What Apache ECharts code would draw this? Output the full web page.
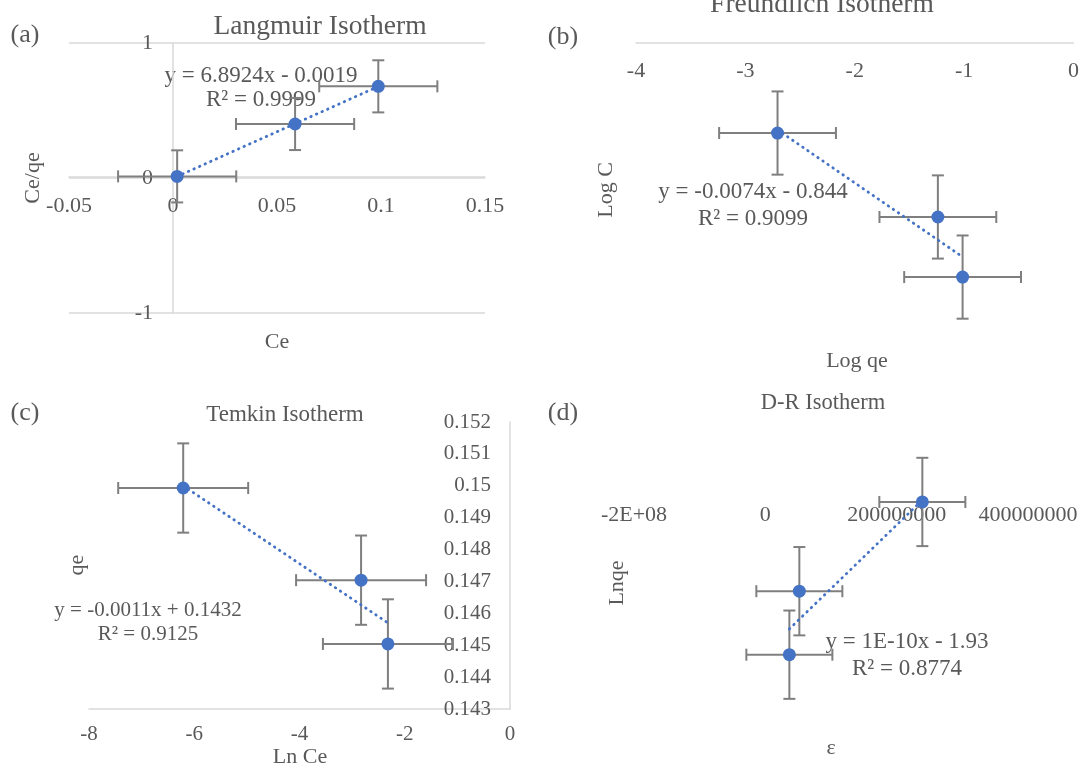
<!DOCTYPE html>
<html><head><meta charset="utf-8">
<script src="https://cdn.jsdelivr.net/npm/echarts@6/dist/echarts.min.js"></script>
<style>html,body{margin:0;padding:0;background:#fff}#c{width:1082px;height:767px}</style>
</head><body><div id="c"></div>
<script>
// ---- (a) Langmuir ----
const langX = [0.002, 0.0587, 0.0987];
const langY = [0.012, 0.40, 0.679];
const langXErr = [0.0284, 0.0284, 0.0284];
const langYErr = [0.193, 0.193, 0.193];
const langTrendX = [0.002, 0.0987];
const langTrendY = [0.0119, 0.678];
// ---- (b) Freundlich ----
const freX = [-2.706, -1.24, -1.014];
const freY = [-0.37, -0.715, -0.962];
const freXErr = [0.534, 0.534, 0.534];
const freYErr = [0.171, 0.171, 0.171];
const freTrendX = [-2.706, -1.014];
const freTrendY = [-0.357, -0.879];
// ---- (c) Temkin ----
const temX = [-6.21, -2.83, -2.32];
const temY = [0.14993, 0.14704, 0.14504];
const temXErr = [1.235, 1.235, 1.235];
const temYErr = [0.0014, 0.0014, 0.0014];
const temTrendX = [-6.21, -2.32];
const temTrendY = [0.1500, 0.1457];
// ---- (d) D-R ----
const drX = [5.18e7, 3.66e7, 2.391e8];
const drY = [-1.917, -1.9308, -1.8976];
const drXErr = [6.55e7, 6.55e7, 6.55e7];
const drYErr = [0.0096, 0.0096, 0.0096];
const drTrendX = [3.66e7, 2.391e8];
const drTrendY = [-1.9252, -1.8972];
const drTickValues = [-2e8, 0, 2e8, 4e8];
const drTickLabels = ['-2E+08', '0', '200000000', '400000000'];

const FONT = '"Liberation Serif","Times New Roman",serif';
const TXT = '#595959';
const AXC = '#d9d9d9';
const BLUE = '#4472C4';

function errRender(params, api) {
  const x = api.value(0), y = api.value(1), ex = api.value(2), ey = api.value(3);
  const l = api.coord([x - ex, y]), r = api.coord([x + ex, y]);
  const t = api.coord([x, y + ey]), b = api.coord([x, y - ey]);
  const cap = 6;
  const st = {stroke: '#7f7f7f', lineWidth: 2, fill: null};
  const ln = (x1, y1, x2, y2) => ({type: 'line', shape: {x1, y1, x2, y2}, style: st});
  return {type: 'group', children: [
    ln(l[0], l[1], r[0], r[1]),
    ln(l[0], l[1] - cap, l[0], l[1] + cap),
    ln(r[0], r[1] - cap, r[0], r[1] + cap),
    ln(t[0], t[1], b[0], b[1]),
    ln(t[0] - cap, t[1], t[0] + cap, t[1]),
    ln(b[0] - cap, b[1], b[0] + cap, b[1])
  ]};
}
function zip(a, b) { return a.map((v, i) => [v, b[i]]); }
function zip4(a, b, c, d) { return a.map((v, i) => [v, b[i], c[i], d[i]]); }
function panelSeries(idx, xs, ys, xe, ye, tx, ty) {
  return [
    {type: 'custom', xAxisIndex: idx, yAxisIndex: idx, renderItem: errRender, clip: false,
     encode: {x: 0, y: 1}, data: zip4(xs, ys, xe, ye), z: 2},
    {type: 'line', xAxisIndex: idx, yAxisIndex: idx, data: zip(tx, ty), symbol: 'none', z: 3,
     lineStyle: {color: BLUE, width: 2.8, type: [0.5, 5.6], cap: 'round'}},
    {type: 'scatter', xAxisIndex: idx, yAxisIndex: idx, data: zip(xs, ys), symbolSize: 13,
     itemStyle: {color: BLUE, opacity: 1}, z: 4, clip: false}
  ];
}
const lab = (size) => ({color: TXT, fontFamily: FONT, fontSize: size});
function txt(text, x, y, size, rot) {
  return {type: 'text', x: x, y: y, rotation: rot ? Math.PI / 2 : 0,
    style: {text: text, fill: TXT, fontFamily: FONT, fontSize: size, align: 'center', verticalAlign: 'middle'}};
}

const option = {
  animation: false,
  backgroundColor: '#fff',
  grid: [
    {left: 69, top: 43, width: 416, height: 270},
    {left: 636, top: 43, width: 442, height: 292},
    {left: 89, top: 422, width: 421, height: 287},
    {left: 634, top: 421, width: 394, height: 322}
  ],
  xAxis: [
    // axis line sits on y = 0 (pixel 177): offset from grid bottom (313)
    {gridIndex: 0, type: 'value', min: -0.05, max: 0.15, interval: 0.05, position: 'bottom', offset: -136,
     axisLine: {onZero: false, lineStyle: {color: AXC, width: 1.5}}, axisTick: {show: false}, splitLine: {show: false},
     axisLabel: Object.assign(lab(22), {margin: 18})},
    // axis line sits on y = 0 (top of grid)
    {gridIndex: 1, type: 'value', min: -4, max: 0, interval: 1, position: 'bottom', offset: -292,
     axisLine: {onZero: false, lineStyle: {color: AXC, width: 1.5}}, axisTick: {show: false}, splitLine: {show: false},
     axisLabel: Object.assign(lab(22), {margin: 17})},
    {gridIndex: 2, type: 'value', min: -8, max: 0, interval: 2,
     axisLine: {onZero: false, lineStyle: {color: AXC, width: 1.5}}, axisTick: {show: false}, splitLine: {show: false},
     axisLabel: Object.assign(lab(21), {margin: 15})},
    {gridIndex: 3, type: 'value', min: -2e8, max: 4e8, interval: 2e8, position: 'bottom', offset: -253,
     axisLine: {show: false, onZero: false}, axisTick: {show: false}, splitLine: {show: false},
     axisLabel: Object.assign(lab(22), {margin: 14,
       formatter: v => { const i = drTickValues.indexOf(v); return i >= 0 ? drTickLabels[i] : ''; }})}
  ],
  yAxis: [
    // axis line sits on x = 0 (pixel 173): offset from grid left (69)
    {gridIndex: 0, type: 'value', min: -1, max: 1, interval: 1, position: 'left', offset: -104,
     axisLine: {show: true, onZero: false, lineStyle: {color: AXC, width: 1.5}}, axisTick: {show: false},
     splitLine: {show: true, lineStyle: {color: AXC, width: 1.5}},
     axisLabel: Object.assign(lab(22), {margin: 20})},
    {gridIndex: 1, type: 'value', min: -1.2, max: 0, show: false},
    {gridIndex: 2, type: 'value', min: 0.143, max: 0.152, interval: 0.001, position: 'right',
     axisLine: {show: true, onZero: false, lineStyle: {color: AXC, width: 1.5}}, axisTick: {show: false}, splitLine: {show: false},
     axisLabel: Object.assign(lab(21), {inside: true, margin: 19})},
    {gridIndex: 3, type: 'value', min: -1.95, max: -1.88, show: false}
  ],
  graphic: [
    txt('(a)', 25, 35, 26), txt('Langmuir Isotherm', 320, 27, 27.5),
    txt('Ce/qe', 33, 178, 22, true), txt('Ce', 277, 342, 22),
    txt('y = 6.8924x - 0.0019', 261, 76, 23), txt('R² = 0.9999', 261, 100, 23),

    txt('(b)', 563, 37, 26), txt('Freundlich Isotherm', 822, 5, 27.5),
    txt('Log C', 606, 190, 22, true), txt('Log qe', 857, 361, 22),
    txt('y = -0.0074x - 0.844', 753, 192, 23), txt('R² = 0.9099', 753, 219, 23),

    txt('(c)', 25, 413, 26), txt('Temkin Isotherm', 285, 415, 23),
    txt('qe', 77, 565, 22, true), txt('Ln Ce', 300, 757, 22),
    txt('y = -0.0011x + 0.1432', 148, 610, 21), txt('R² = 0.9125', 148, 634, 21),

    txt('(d)', 563, 413, 26), txt('D-R Isotherm', 823, 403, 22.5),
    txt('Lnqe', 617, 583, 22, true), txt('ε', 831, 748, 22),
    txt('y = 1E-10x - 1.93', 907, 642, 23), txt('R² = 0.8774', 907, 669, 23)
  ],
  series: [].concat(
    panelSeries(0, langX, langY, langXErr, langYErr, langTrendX, langTrendY),
    panelSeries(1, freX, freY, freXErr, freYErr, freTrendX, freTrendY),
    panelSeries(2, temX, temY, temXErr, temYErr, temTrendX, temTrendY),
    panelSeries(3, drX, drY, drXErr, drYErr, drTrendX, drTrendY)
  )
};
const chart = echarts.init(document.getElementById('c'));
chart.setOption(option);
</script></body></html>
